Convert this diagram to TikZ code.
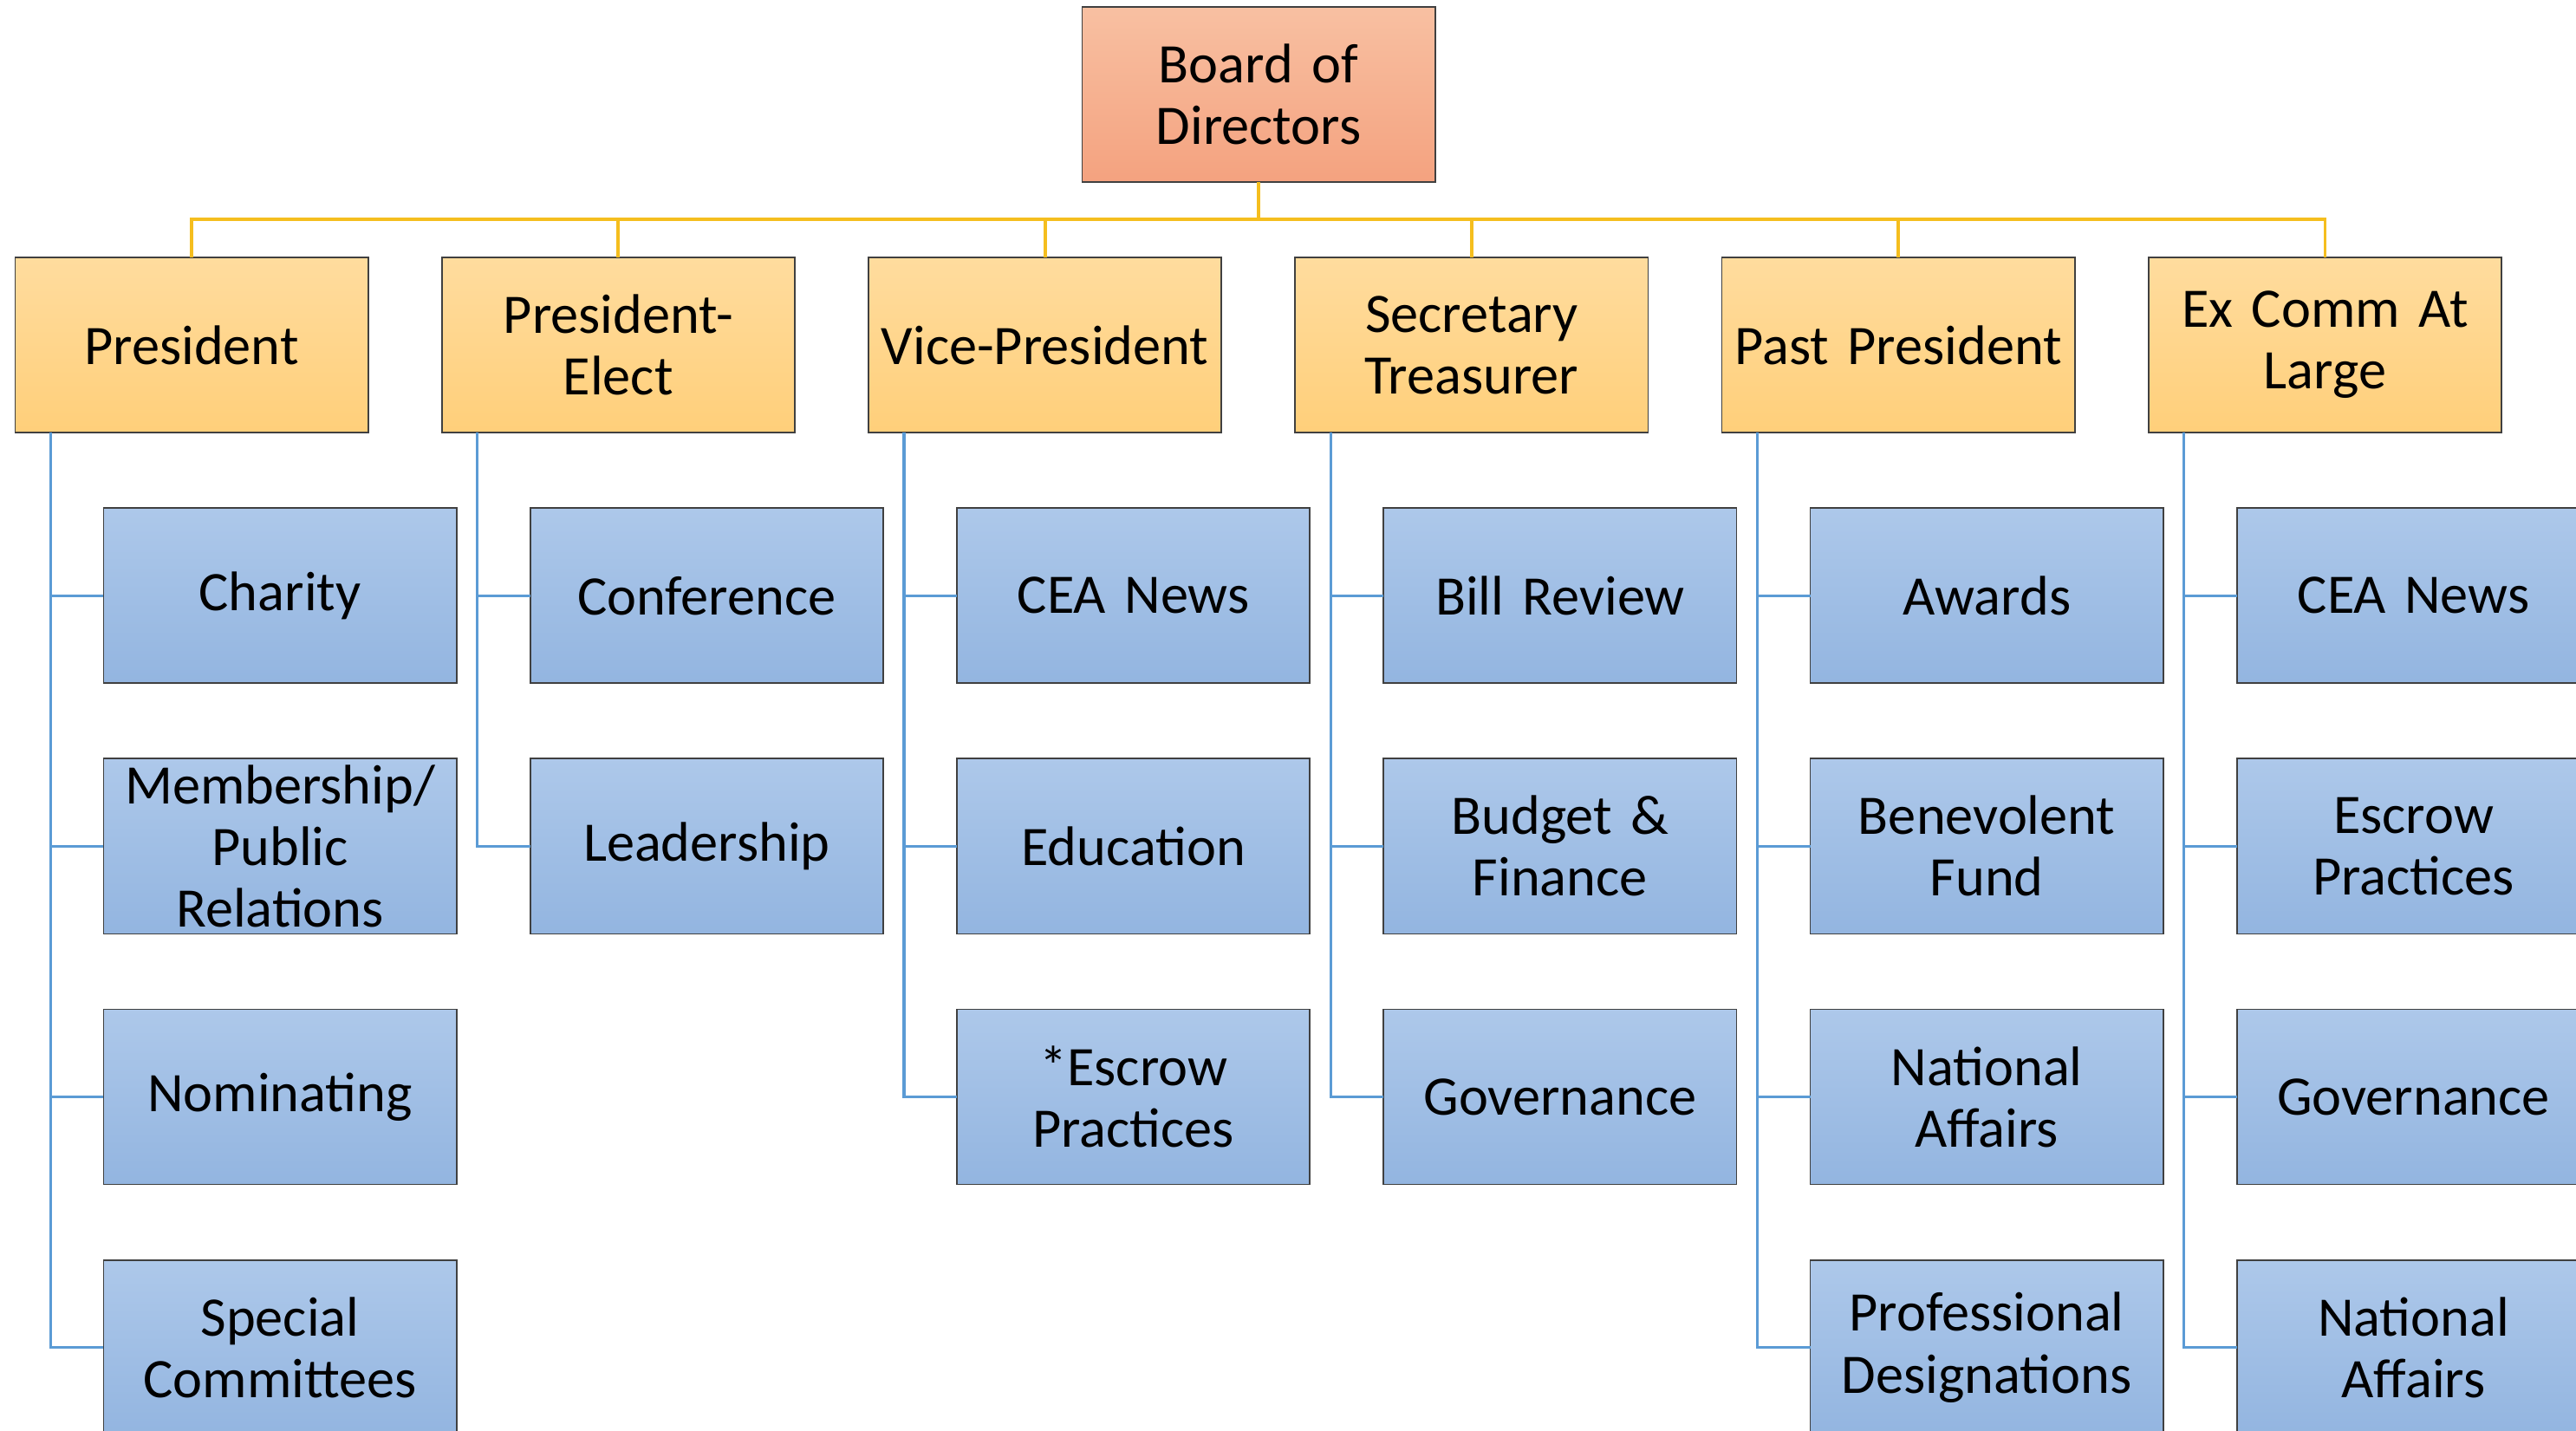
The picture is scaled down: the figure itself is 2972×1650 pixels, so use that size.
\documentclass[tikz,border=0pt]{standalone}
\usepackage{fontspec}
\setmainfont{Carlito}[WordSpace=0.8]
\usepackage{tikz}
\usetikzlibrary{positioning}
\definecolor{boardtop}{HTML}{F8C0A2}
\definecolor{boardbot}{HTML}{F4A27F}
\definecolor{offtop}{HTML}{FFDC9E}
\definecolor{offbot}{HTML}{FFCF7A}
\definecolor{comtop}{HTML}{ADC8EA}
\definecolor{combot}{HTML}{93B5E0}
\definecolor{linegold}{HTML}{F5BE1E}
\definecolor{lineblue}{HTML}{5B9BD5}
\newcommand{\orgfont}{\fontsize{18.3}{20.2}\selectfont}
\tikzset{%
  % boxes
  box/.style={draw=black!75, line width=0.5pt, align=center, inner sep=0pt, outer sep=0pt,
    minimum width=40.7mm, minimum height=20.2mm, text width=40.5mm, font=\orgfont},
  board/.style={box, top color=boardtop, bottom color=boardbot},
  officer/.style={box, top color=offtop, bottom color=offbot},
  committee/.style={box, top color=comtop, bottom color=combot},
  % connector styles
  goldline/.style={draw=linegold, line width=1.1pt},
  blueline/.style={draw=lineblue, line width=0.9pt},
}

\begin{document}
\begin{tikzpicture}[x=0.01cm, y=-0.01cm, node distance=8.7mm]
  \useasboundingbox (0,0) rectangle (2972,1650);
  \clip (0,0) rectangle (2972,1650);

  % Top
  \node[board] (board) at (1452,109) {Board of\\Directors};
  \coordinate[below=4.3mm of board.south] (bus);

  % Officers
  \node[officer] (pres) at (221,398) {President};
  \node[officer, right=8.5mm of pres] (elect) {President-\\Elect};
  \node[officer, right=8.5mm of elect] (vice) {Vice-President};
  \node[officer, right=8.5mm of vice] (sec) {Secretary\\Treasurer};
  \node[officer, right=8.5mm of sec] (past) {Past President};
  \node[officer, right=8.5mm of past] (excomm) {Ex Comm At\\Large};

  % President
  \node[committee, below=of pres, xshift=10.2mm] (c_pres1) {Charity};
  \node[committee, below=of c_pres1] (c_pres2) {Membership/\\Public\\Relations};
  \node[committee, below=of c_pres2] (c_pres3) {Nominating};
  \node[committee, below=of c_pres3] (c_pres4) {Special\\Committees};

  % President-Elect
  \node[committee, below=of elect, xshift=10.2mm] (c_elect1) {Conference};
  \node[committee, below=of c_elect1] (c_elect2) {Leadership};

  % Vice-President
  \node[committee, below=of vice, xshift=10.2mm] (c_vice1) {CEA News};
  \node[committee, below=of c_vice1] (c_vice2) {Education};
  \node[committee, below=of c_vice2] (c_vice3) {*Escrow\\Practices};

  % Secretary Treasurer
  \node[committee, below=of sec, xshift=10.2mm] (c_sec1) {Bill Review};
  \node[committee, below=of c_sec1] (c_sec2) {Budget \&\\Finance};
  \node[committee, below=of c_sec2] (c_sec3) {Governance};

  % Past President
  \node[committee, below=of past, xshift=10.2mm] (c_past1) {Awards};
  \node[committee, below=of c_past1] (c_past2) {Benevolent\\Fund};
  \node[committee, below=of c_past2] (c_past3) {National\\Affairs};
  \node[committee, below=of c_past3] (c_past4) {Professional\\Designations};

  % Ex Comm At Large
  \node[committee, below=of excomm, xshift=10.2mm] (c_ex1) {CEA News};
  \node[committee, below=of c_ex1] (c_ex2) {Escrow\\Practices};
  \node[committee, below=of c_ex2] (c_ex3) {Governance};
  \node[committee, below=of c_ex3] (c_ex4) {National\\Affairs};

  % Board to officers
  \draw[goldline] (board.south) -- (bus);
  \draw[goldline] (bus) -| (pres.north);
  \draw[goldline] (bus) -| (elect.north);
  \draw[goldline] (bus) -| (vice.north);
  \draw[goldline] (bus) -| (sec.north);
  \draw[goldline] (bus) -| (past.north);
  \draw[goldline] (bus) -| (excomm.north);

  % Officers to committees
  \draw[blueline] ([xshift=4.1mm]pres.south west) |- (c_pres1.west);
  \draw[blueline] ([xshift=4.1mm]pres.south west) |- (c_pres2.west);
  \draw[blueline] ([xshift=4.1mm]pres.south west) |- (c_pres3.west);
  \draw[blueline] ([xshift=4.1mm]pres.south west) |- (c_pres4.west);

  \draw[blueline] ([xshift=4.1mm]elect.south west) |- (c_elect1.west);
  \draw[blueline] ([xshift=4.1mm]elect.south west) |- (c_elect2.west);

  \draw[blueline] ([xshift=4.1mm]vice.south west) |- (c_vice1.west);
  \draw[blueline] ([xshift=4.1mm]vice.south west) |- (c_vice2.west);
  \draw[blueline] ([xshift=4.1mm]vice.south west) |- (c_vice3.west);

  \draw[blueline] ([xshift=4.1mm]sec.south west) |- (c_sec1.west);
  \draw[blueline] ([xshift=4.1mm]sec.south west) |- (c_sec2.west);
  \draw[blueline] ([xshift=4.1mm]sec.south west) |- (c_sec3.west);

  \draw[blueline] ([xshift=4.1mm]past.south west) |- (c_past1.west);
  \draw[blueline] ([xshift=4.1mm]past.south west) |- (c_past2.west);
  \draw[blueline] ([xshift=4.1mm]past.south west) |- (c_past3.west);
  \draw[blueline] ([xshift=4.1mm]past.south west) |- (c_past4.west);

  \draw[blueline] ([xshift=4.1mm]excomm.south west) |- (c_ex1.west);
  \draw[blueline] ([xshift=4.1mm]excomm.south west) |- (c_ex2.west);
  \draw[blueline] ([xshift=4.1mm]excomm.south west) |- (c_ex3.west);
  \draw[blueline] ([xshift=4.1mm]excomm.south west) |- (c_ex4.west);
\end{tikzpicture}
\end{document}
